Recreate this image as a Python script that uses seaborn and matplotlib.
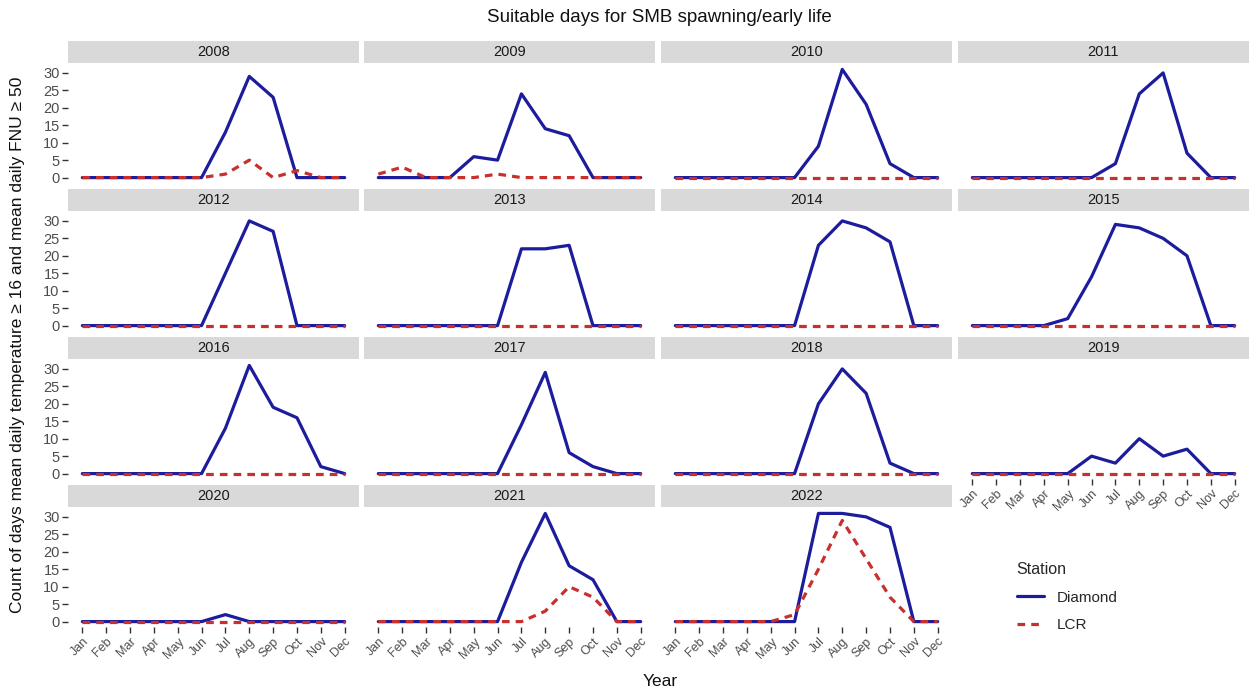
import numpy as np
import pandas as pd
import seaborn as sns
import matplotlib
matplotlib.use("Agg")
import matplotlib.pyplot as plt
from matplotlib.lines import Line2D

months = ["Jan", "Feb", "Mar", "Apr", "May", "Jun", "Jul", "Aug", "Sep", "Oct", "Nov", "Dec"]
years = [2008, 2009, 2010, 2011, 2012, 2013, 2014, 2015, 2016, 2017, 2018, 2019, 2020, 2021, 2022]

diamond = {
    2008: [0, 0, 0, 0, 0, 0, 13, 29, 23, 0, 0, 0],
    2009: [0, 0, 0, 0, 6, 5, 24, 14, 12, 0, 0, 0],
    2010: [0, 0, 0, 0, 0, 0, 9, 31, 21, 4, 0, 0],
    2011: [0, 0, 0, 0, 0, 0, 4, 24, 30, 7, 0, 0],
    2012: [0, 0, 0, 0, 0, 0, 15, 30, 27, 0, 0, 0],
    2013: [0, 0, 0, 0, 0, 0, 22, 22, 23, 0, 0, 0],
    2014: [0, 0, 0, 0, 0, 0, 23, 30, 28, 24, 0, 0],
    2015: [0, 0, 0, 0, 2, 14, 29, 28, 25, 20, 0, 0],
    2016: [0, 0, 0, 0, 0, 0, 13, 31, 19, 16, 2, 0],
    2017: [0, 0, 0, 0, 0, 0, 14, 29, 6, 2, 0, 0],
    2018: [0, 0, 0, 0, 0, 0, 20, 30, 23, 3, 0, 0],
    2019: [0, 0, 0, 0, 0, 5, 3, 10, 5, 7, 0, 0],
    2020: [0, 0, 0, 0, 0, 0, 2, 0, 0, 0, 0, 0],
    2021: [0, 0, 0, 0, 0, 0, 17, 31, 16, 12, 0, 0],
    2022: [0, 0, 0, 0, 0, 0, 31, 31, 30, 27, 0, 0],
}
lcr = {
    2008: [0, 0, 0, 0, 0, 0, 1, 5, 0, 2, 0, 0],
    2009: [1, 3, 0, 0, 0, 1, 0, 0, 0, 0, 0, 0],
    2010: [0] * 12,
    2011: [0] * 12,
    2012: [0] * 12,
    2013: [0] * 12,
    2014: [0] * 12,
    2015: [0] * 12,
    2016: [0] * 12,
    2017: [0] * 12,
    2018: [0] * 12,
    2019: [0] * 12,
    2020: [0] * 12,
    2021: [0, 0, 0, 0, 0, 0, 0, 3, 10, 7, 0, 0],
    2022: [0, 0, 0, 0, 0, 2, 15, 29, 18, 7, 0, 0],
}
stations = ["Diamond", "LCR"]

rows = []
for y in years:
    for i, m in enumerate(months):
        rows.append({"Year": y, "Month": i + 1, "Station": "Diamond", "Days": diamond[y][i]})
        rows.append({"Year": y, "Month": i + 1, "Station": "LCR", "Days": lcr[y][i]})
df = pd.DataFrame(rows)

sns.set_theme(style="white")
plt.rcParams["font.family"] = ["Liberation Sans", "DejaVu Sans"]

W, H = 1256, 694
fig = plt.figure(figsize=(W / 100, H / 100), dpi=100)

palette = {"Diamond": "#1c1c9c", "LCR": "#c8302e"}
dash_pat = (2.4, 1.9)
LW = 2.3

col_left = [68, 364, 661, 958]
pw = 291
panel_top = [64, 212, 360, 508]
ph = 119
strip_h = 22


def fr(x, y, w, h):
    return [x / W, 1 - (y + h) / H, w / W, h / H]


for k, y in enumerate(years):
    r, c = divmod(k, 4)
    ax = fig.add_axes(fr(col_left[c], panel_top[r], pw, ph))
    sub = df[df["Year"] == y]
    sns.lineplot(data=sub[sub["Station"] == "Diamond"], x="Month", y="Days",
                 color=palette["Diamond"], linewidth=LW, ax=ax)
    ax.lines[-1].set_zorder(2)
    sns.lineplot(data=sub[sub["Station"] == "LCR"], x="Month", y="Days",
                 color=palette["LCR"], linewidth=LW, ax=ax)
    ax.lines[-1].set_dashes(dash_pat)
    ax.lines[-1].set_zorder(4)
    ax.set_xlim(0.4, 12.6)
    ax.set_ylim(-1.55, 32.55)
    ax.set_xticks(range(1, 13))
    ax.set_yticks([0, 5, 10, 15, 20, 25, 30])
    for s in ax.spines.values():
        s.set_visible(False)
    ax.set_xlabel("")
    ax.set_ylabel("")
    bottom = (k + 4 >= len(years))
    left = (c == 0)
    ax.tick_params(axis="both", which="both", length=4, width=1.0, color="#333333",
                   labelcolor="#4d4d4d", labelsize=10.5, pad=2,
                   bottom=bottom, left=left, labelbottom=bottom, labelleft=left)
    if bottom:
        ax.set_xticklabels(months, rotation=45, ha="right", rotation_mode="anchor",
                           fontsize=9)
    # strip
    sax = fig.add_axes(fr(col_left[c], panel_top[r] - strip_h - 1, pw, strip_h))
    sax.set_facecolor("#d9d9d9")
    sax.set_xticks([])
    sax.set_yticks([])
    for s in sax.spines.values():
        s.set_visible(False)
    sax.text(0.5, 0.5, str(y), ha="center", va="center", fontsize=10.5,
             color="#1a1a1a", transform=sax.transAxes)

fig.text(659 / W, 1 - 18 / H, "Suitable days for SMB spawning/early life",
         ha="center", va="center", fontsize=13.5, color="#111111")
fig.text(660 / W, 1 - 681 / H, "Year", ha="center", va="center", fontsize=12.5,
         color="#111111")
fig.text(18 / W, 1 - 345 / H,
         "Count of days mean daily temperature \u2265 16 and mean daily FNU \u2265 50",
         ha="center", va="center", rotation=90, fontsize=12.5, color="#111111")

handles = [Line2D([0], [0], color=palette["Diamond"], lw=LW),
           Line2D([0], [0], color=palette["LCR"], lw=LW, dashes=dash_pat)]
leg = fig.legend(handles, stations, title="Station", loc="upper left",
                 bbox_to_anchor=(1003 / W, 1 - 548 / H), frameon=False,
                 fontsize=11, title_fontsize=11.5, handlelength=1.8,
                 labelspacing=0.9, alignment="left")

fig.savefig("out.png", dpi=100)
